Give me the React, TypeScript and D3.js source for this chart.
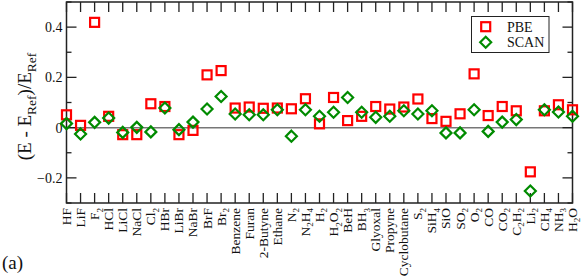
import React, { useEffect, useRef } from 'react';
import * as d3 from 'd3';

// molecule labels, "_" marks a subscript digit
const categories = [
  'HF', 'LiF', 'F_2', 'HCl', 'LiCl', 'NaCl', 'Cl_2', 'HBr', 'LiBr', 'NaBr', 'BrF', 'Br_2',
  'Benzene', 'Furan', '2-Butyne', 'Ethane', 'N_2', 'N_2H_4', 'H_2', 'H_2O_2', 'BeH', 'BH_3',
  'Glyoxal', 'Propyne', 'Cyclobutane', 'S_2', 'SiH_4', 'SiO', 'SO_2', 'O_2', 'CO', 'CO_2',
  'C_2H_2', 'Li_2', 'CH_4', 'NH_3', 'H_2O'
];

const pbeValues = [
  0.051, 0.009, 0.419, 0.045, -0.028, -0.028, 0.095, 0.084, -0.028, -0.011, 0.21, 0.227,
  0.078, 0.082, 0.077, 0.078, 0.075, 0.115, 0.015, 0.12, 0.028, 0.045,
  0.084, 0.074, 0.082, 0.114, 0.036, 0.025, 0.055, 0.214, 0.048, 0.084,
  0.067, -0.176, 0.067, 0.091, 0.071
];

const scanValues = [
  0.016, -0.025, 0.021, 0.038, -0.019, 0.001, -0.017, 0.078, -0.008, 0.022, 0.074, 0.124,
  0.054, 0.051, 0.051, 0.071, -0.034, 0.071, 0.045, 0.061, 0.12, 0.061,
  0.041, 0.045, 0.067, 0.054, 0.067, -0.021, -0.021, 0.071, -0.015, 0.022,
  0.032, -0.252, 0.071, 0.062, 0.045
];

const yMajorTicks = [-0.2, 0, 0.2, 0.4];
const yMinorTicks = [-0.3, -0.1, 0.1, 0.3, 0.5];
const seriesNames = ['PBE', 'SCAN'];

const FONT = "'Liberation Serif', 'Times New Roman', serif";
const RED = '#ff0000';
const GREEN = '#008b00';
const AXIS = '#222';

// split "N_2H_4" into [{t:'N'},{t:'2',sub:true},...]
const parseLabel = (s: string) => {
  const parts: { t: string; sub: boolean }[] = [];
  let i = 0;
  while (i < s.length) {
    if (s[i] === '_') {
      parts.push({ t: s[i + 1], sub: true });
      i += 2;
    } else {
      let j = i;
      while (j < s.length && s[j] !== '_') j++;
      parts.push({ t: s.slice(i, j), sub: false });
      i = j;
    }
  }
  return parts;
};

const Chart = () => {
  const svgRef = useRef<SVGSVGElement>(null);

  useEffect(() => {
    const width = 581;
    const height = 278;
    const margin = { top: 2, right: 8.5, bottom: 75, left: 66.5 };
    const x0 = margin.left;
    const x1 = width - margin.right;
    const y0 = margin.top;
    const y1 = height - margin.bottom;

    const svg = d3.select(svgRef.current);
    svg.selectAll('*').remove();
    svg.attr('width', width).attr('height', height);

    const x = d3.scalePoint<string>().domain(categories).range([x0, x1]);
    const y = d3.scaleLinear().domain([-0.3, 0.5]).range([y1, y0]);

    // zero line
    svg.append('line')
      .attr('x1', x0).attr('x2', x1)
      .attr('y1', y(0)).attr('y2', y(0))
      .attr('stroke', '#777').attr('stroke-width', 1.5);

    // frame
    svg.append('rect')
      .attr('x', x0).attr('y', y0)
      .attr('width', x1 - x0).attr('height', y1 - y0)
      .attr('fill', 'none').attr('stroke', AXIS).attr('stroke-width', 1.5);

    // y ticks, inward on both sides
    const ticks = svg.append('g').attr('stroke', AXIS).attr('stroke-width', 1.3);
    const yTicks = [
      ...yMajorTicks.map(v => ({ v, len: 10 })),
      ...yMinorTicks.map(v => ({ v, len: 5 }))
    ];
    yTicks.forEach(t => {
      ticks.append('line').attr('x1', x0).attr('x2', x0 + t.len).attr('y1', y(t.v)).attr('y2', y(t.v));
      ticks.append('line').attr('x1', x1).attr('x2', x1 - t.len).attr('y1', y(t.v)).attr('y2', y(t.v));
    });

    // category ticks, top and bottom
    categories.forEach(c => {
      const cx = x(c)!;
      ticks.append('line').attr('x1', cx).attr('x2', cx).attr('y1', y1).attr('y2', y1 - 10);
      ticks.append('line').attr('x1', cx).attr('x2', cx).attr('y1', y0).attr('y2', y0 + 10);
    });

    // y tick labels
    svg.append('g')
      .selectAll('text')
      .data(yMajorTicks)
      .enter().append('text')
      .attr('x', x0 - 4)
      .attr('y', d => y(d))
      .attr('dy', '0.35em')
      .attr('text-anchor', 'end')
      .style('font-family', FONT)
      .style('font-size', '14px')
      .style('fill', '#111')
      .text(d => (d === 0 ? '0' : d3.format('.1f')(d)));

    // rotated category labels with subscripts
    const labels = svg.append('g');
    categories.forEach(c => {
      const t = labels.append('text')
        .attr('transform', `translate(${x(c)},${y1 + 5}) rotate(-90)`)
        .attr('text-anchor', 'end')
        .attr('dy', '0.33em')
        .style('font-family', FONT)
        .style('font-size', '13.5px')
        .style('fill', '#111');
      let shifted = false;
      parseLabel(c).forEach(p => {
        if (p.sub) {
          t.append('tspan').attr('dy', 3.5).style('font-size', '9px').text(p.t);
          shifted = true;
        } else {
          const s = t.append('tspan').text(p.t);
          if (shifted) s.attr('dy', -3.5);
          shifted = false;
        }
      });
    });

    // y axis title
    const yt = svg.append('text')
      .attr('transform', `translate(31,${(y0 + y1) / 2 + 4}) rotate(-90)`)
      .attr('text-anchor', 'middle')
      .style('font-family', FONT)
      .style('font-size', '19px')
      .style('fill', '#111');
    yt.append('tspan').text('(E - E');
    yt.append('tspan').attr('dy', 5).style('font-size', '13.5px').text('Ref');
    yt.append('tspan').attr('dy', -5).text(')/E');
    yt.append('tspan').attr('dy', 5).style('font-size', '13.5px').text('Ref');

    // panel tag
    svg.append('text')
      .attr('x', 2).attr('y', 269)
      .style('font-family', FONT)
      .style('font-size', '19px')
      .style('fill', '#111')
      .text('(a)');

    // markers
    const sq = 9;
    svg.append('g')
      .selectAll('rect')
      .data(pbeValues)
      .enter().append('rect')
      .attr('x', (d, i) => x(categories[i])! - sq / 2)
      .attr('y', d => y(d) - sq / 2)
      .attr('width', sq).attr('height', sq)
      .attr('fill', 'none').attr('stroke', RED).attr('stroke-width', 2.2);

    const diamond = (cx: number, cy: number, r = 5.5) =>
      `M${cx},${cy - r}L${cx + r},${cy}L${cx},${cy + r}L${cx - r},${cy}Z`;

    svg.append('g')
      .selectAll('path')
      .data(scanValues)
      .enter().append('path')
      .attr('d', (d, i) => diamond(x(categories[i])!, y(d)))
      .attr('fill', 'none').attr('stroke', GREEN).attr('stroke-width', 2.2);

    // legend
    const lg = svg.append('g');
    lg.append('rect')
      .attr('x', 471.5).attr('y', 16.5).attr('width', 77.5).attr('height', 36)
      .attr('fill', 'white').attr('stroke', AXIS).attr('stroke-width', 1);
    const ly = [26.7, 42.3];
    lg.append('rect')
      .attr('x', 485.7 - sq / 2).attr('y', ly[0] - sq / 2).attr('width', sq).attr('height', sq)
      .attr('fill', 'none').attr('stroke', RED).attr('stroke-width', 2.2);
    lg.append('path')
      .attr('d', diamond(485.7, ly[1]))
      .attr('fill', 'none').attr('stroke', GREEN).attr('stroke-width', 2.2);
    lg.selectAll('text.name')
      .data(seriesNames)
      .enter().append('text')
      .attr('class', 'name')
      .attr('x', 507)
      .attr('y', (d, i) => ly[i])
      .attr('dy', '0.35em')
      .style('font-family', FONT)
      .style('font-size', '14px')
      .style('fill', '#111')
      .text(d => d);
  }, []);

  return <svg ref={svgRef} style={{ display: 'block' }}></svg>;
};

export default function App() {
  return (
    <div>
      <style>{`body { margin: 0; background: white; }`}</style>
      <Chart />
    </div>
  );
}
